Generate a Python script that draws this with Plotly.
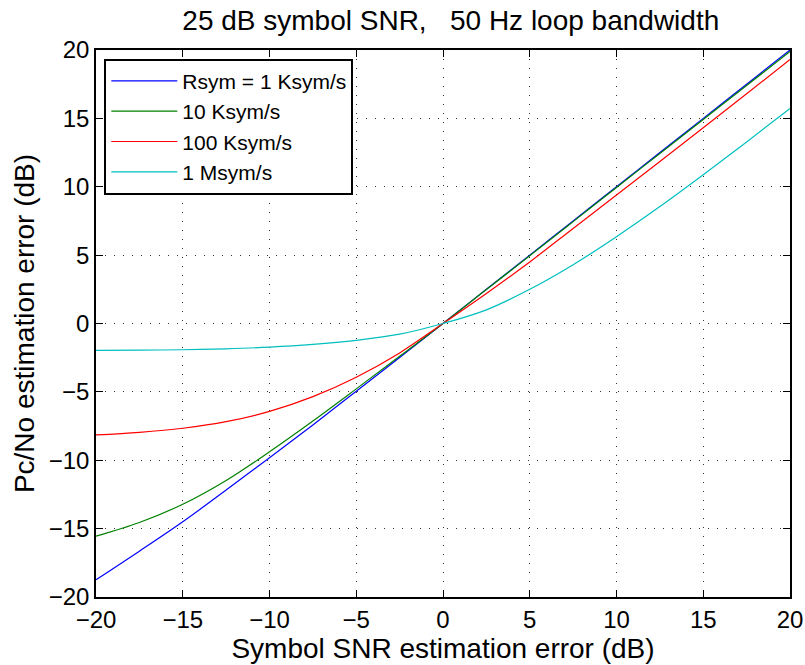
import plotly.graph_objects as go

x = [-20, -17.5, -15, -12.5, -10, -7.5, -5, -2.5, 0, 2.5, 5, 7.5, 10, 12.5, 15, 17.5, 20]
blue = [-18.74, -16.65, -14.5, -12.18, -9.82, -7.42, -4.95, -2.48, 0, 2.5, 5.0, 7.5, 10.0, 12.5, 15.0, 17.5, 20.0]
green = [-15.55, -14.55, -13.22, -11.48, -9.38, -7.13, -4.78, -2.4, 0, 2.48, 4.96, 7.45, 9.95, 12.43, 14.92, 17.4, 19.9]
red = [-8.15, -7.96, -7.66, -7.18, -6.43, -5.35, -3.93, -2.15, 0, 2.2, 4.5, 6.95, 9.4, 11.85, 14.32, 16.8, 19.3]
cyan = [-1.97, -1.95, -1.92, -1.85, -1.73, -1.53, -1.23, -0.78, 0, 1.0, 2.5, 4.3, 6.35, 8.55, 10.88, 13.28, 15.72]

names = ["Rsym = 1 Ksym/s", "10 Ksym/s", "100 Ksym/s", "1 Msym/s"]
colors = ["#0000ff", "#008000", "#ff0000", "#00bfbf"]
series = [blue, green, red, cyan]

ticks = [-20, -15, -10, -5, 0, 5, 10, 15, 20]

fig = go.Figure()
for n, c, s in zip(names, colors, series):
    fig.add_trace(go.Scatter(x=x, y=s, mode="lines", name=n,
                             line=dict(color=c, width=1.2, shape="spline", smoothing=1.0)))

axis_common = dict(
    range=[-20, 20], tickvals=ticks, ticks="inside", ticklen=7, tickcolor="black",
    tickwidth=1, mirror="ticks", showline=True, linecolor="black", linewidth=1.6,
    showgrid=True, gridcolor="#333333", gridwidth=1, griddash="1px,8px",
    zeroline=False, tickfont=dict(size=24, color="black"), automargin=False,
)

fig.update_layout(
    width=805, height=665,
    margin=dict(l=96, r=15, t=50, b=68),
    paper_bgcolor="white", plot_bgcolor="white",
    font=dict(family="Liberation Sans, Arial, sans-serif", color="black"),
    title=dict(text="25 dB symbol SNR,   50 Hz loop bandwidth", x=0.56, xanchor="center",
               y=0.97, yanchor="middle", font=dict(size=28)),
    xaxis=dict(title=dict(text="Symbol SNR estimation error (dB)", font=dict(size=28), standoff=0), **axis_common),
    yaxis=dict(title=dict(text="Pc/No estimation error (dB)", font=dict(size=28), standoff=6), **axis_common),
    legend=dict(x=0.012, y=0.984, xanchor="left", yanchor="top",
                bordercolor="black", borderwidth=2, bgcolor="white",
                font=dict(size=21), itemwidth=66, tracegroupgap=0),
    showlegend=True,
)

fig.write_html("out.html")
